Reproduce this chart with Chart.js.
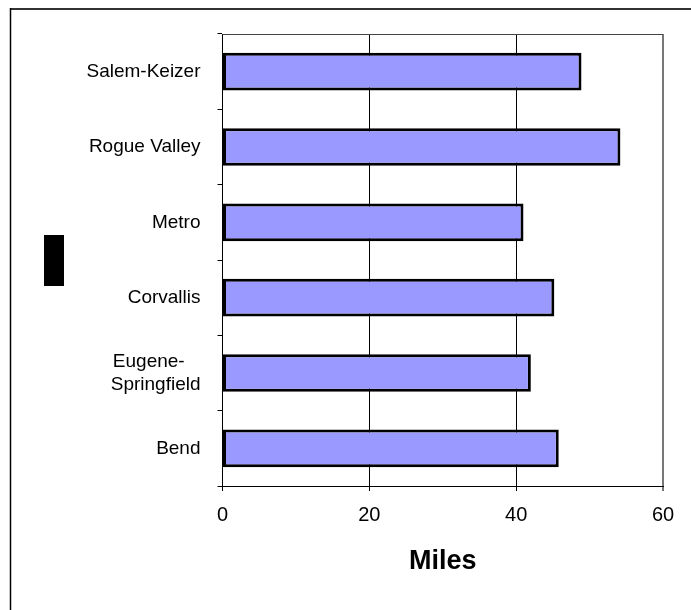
<!DOCTYPE html>
<html>
<head>
<meta charset="utf-8">
<script src="https://cdn.jsdelivr.net/npm/chart.js@4"></script>
<style>
  html, body { margin: 0; padding: 0; background: #fff; }
  #wrap { width: 691px; height: 610px; position: relative; }
</style>
</head>
<body>
<div id="wrap"><canvas id="c" width="691" height="610"></canvas></div>
<script>
// Regions (top to bottom) and their distances in miles
const regions = [
  'Salem-Keizer',
  'Rogue Valley',
  'Metro',
  'Corvallis',
  ['Eugene-   ', 'Springfield'],
  'Bend'
];
const miles = [48.9, 54.2, 41.0, 45.2, 42.0, 45.8];
const xTicks = [0, 20, 40, 60];
const xTitle = 'Miles';

// Page frame and plot-area edges, plus the small black block left of the axis
const framePlugin = {
  id: 'frame',
  beforeDraw(chart) {
    const ctx = chart.ctx;
    ctx.save();
    ctx.fillStyle = '#fff';
    ctx.fillRect(0, 0, chart.width, chart.height);
    ctx.strokeStyle = '#333';
    ctx.lineWidth = 2;
    ctx.beginPath();
    ctx.moveTo(10, 9);
    ctx.lineTo(chart.width, 9);
    ctx.stroke();
    ctx.strokeStyle = '#000';
    ctx.lineWidth = 1.5;
    ctx.beginPath();
    ctx.moveTo(10.5, 8);
    ctx.lineTo(10.5, chart.height);
    ctx.stroke();
    ctx.restore();
  },
  afterDraw(chart) {
    const ctx = chart.ctx;
    const a = chart.chartArea;
    ctx.save();
    ctx.strokeStyle = '#444';
    ctx.lineWidth = 1;
    ctx.beginPath();
    ctx.moveTo(a.left, Math.round(a.top) + 0.5);
    ctx.lineTo(a.right, Math.round(a.top) + 0.5);
    ctx.stroke();
    ctx.fillStyle = '#000';
    ctx.fillRect(44, 235, 20, 51);
    ctx.restore();
  }
};

new Chart(document.getElementById('c'), {
  type: 'bar',
  data: {
    labels: regions,
    datasets: [{
      data: miles,
      backgroundColor: '#9999ff',
      borderColor: '#000',
      borderWidth: 3,
      borderSkipped: false,
      barPercentage: 0.5,
      categoryPercentage: 1.0
    }]
  },
  plugins: [framePlugin],
  options: {
    indexAxis: 'y',
    responsive: false,
    animation: false,
    layout: { padding: { left: 0, top: 34, right: 28, bottom: 0 } },
    plugins: { legend: { display: false }, tooltip: { enabled: false } },
    scales: {
      x: {
        min: 0,
        max: 60,
        afterBuildTicks(scale) { scale.ticks = xTicks.map(v => ({ value: v })); },
        afterFit(scale) { scale.height = 124; },
        grid: {
          color: (c) => (c.tick && c.tick.value === 60) ? '#777' : '#000',
          lineWidth: (c) => (c.tick && c.tick.value === 60) ? 2 : 1,
          tickLength: 5,
          drawTicks: true
        },
        border: { color: '#000', width: 1 },
        ticks: {
          color: '#000',
          padding: 12,
          font: { family: 'Liberation Sans, Arial, sans-serif', size: 20 }
        },
        title: {
          display: true,
          text: xTitle,
          color: '#000',
          padding: { top: 0, bottom: 32 },
          font: { family: 'Liberation Sans, Arial, sans-serif', size: 27, weight: 'bold' }
        }
      },
      y: {
        afterFit(scale) { scale.width = 222.5; },
        grid: {
          offset: true,
          drawOnChartArea: false,
          tickLength: 5,
          color: '#000'
        },
        border: { color: '#000', width: 1 },
        ticks: {
          color: '#000',
          padding: 17,
          font: { family: 'Liberation Sans, Arial, sans-serif', size: 19 }
        }
      }
    }
  }
});
</script>
</body>
</html>
